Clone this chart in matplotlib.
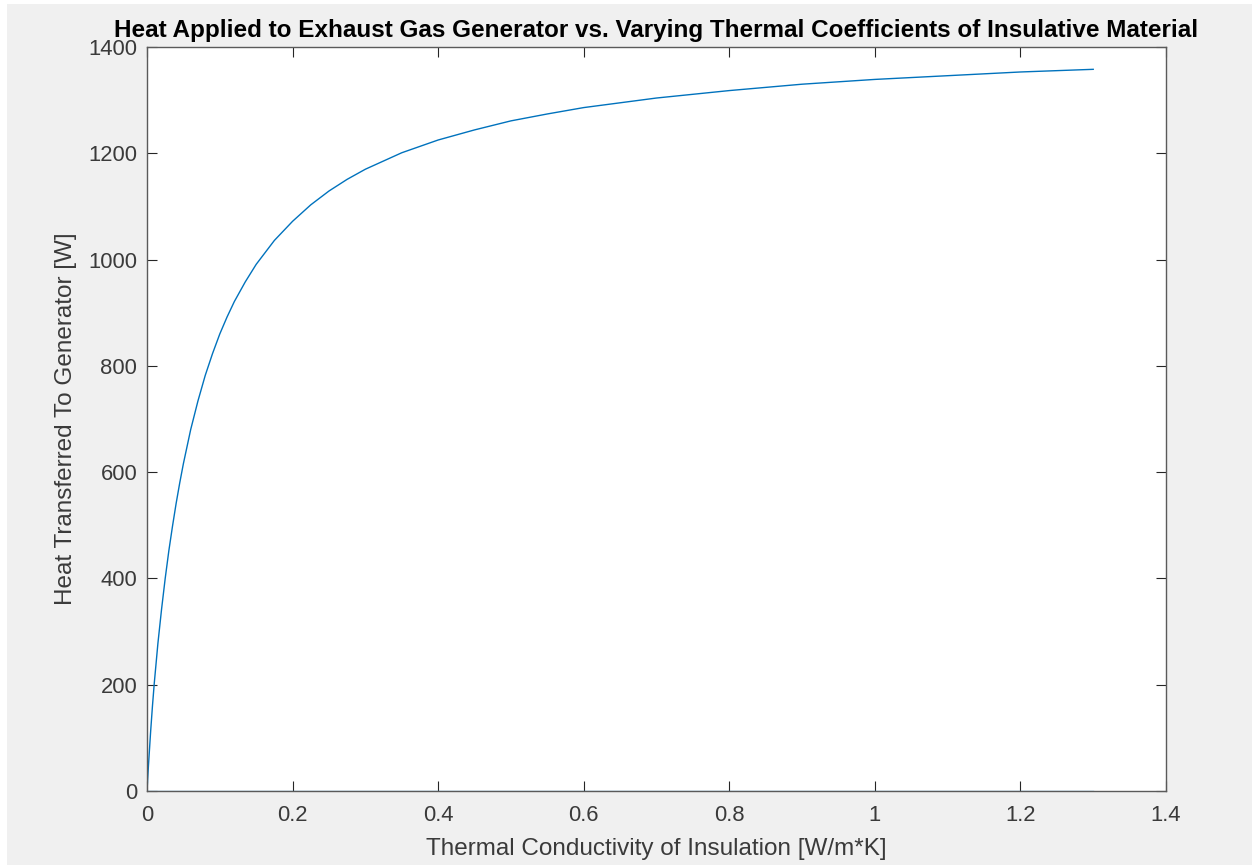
import matplotlib.pyplot as plt
import matplotlib.patches as mpatches

# thermal conductivity of insulation [W/m*K] and heat to generator [W]
k_vals = [0, 0.002, 0.005, 0.0075, 0.01, 0.015, 0.02, 0.025, 0.03, 0.035, 0.04, 0.045,
          0.05, 0.06, 0.07, 0.08, 0.09, 0.10, 0.11, 0.12, 0.135, 0.15, 0.175, 0.20,
          0.225, 0.25, 0.275, 0.30, 0.35, 0.40, 0.45, 0.50, 0.55, 0.60, 0.70, 0.80,
          0.90, 1.00, 1.10, 1.20, 1.30]
q_vals = [0, 48, 112, 160, 203, 278, 342, 400, 452, 498, 541, 580,
          616, 680, 734, 782, 823, 860, 892, 921, 958, 991, 1036, 1072,
          1103, 1129, 1151, 1170, 1201, 1225, 1244, 1261, 1274, 1286, 1304, 1318,
          1330, 1339, 1346, 1353, 1358]
# second row of the result matrix sits flat on zero
q_zero = [0 for _ in k_vals]

xticks = [0, 0.2, 0.4, 0.6, 0.8, 1, 1.2, 1.4]
xtick_labels = ["0", "0.2", "0.4", "0.6", "0.8", "1", "1.2", "1.4"]
yticks = [0, 200, 400, 600, 800, 1000, 1200, 1400]

plt.rcParams['font.family'] = ['Liberation Sans', 'DejaVu Sans']

fig = plt.figure(figsize=(12.52, 8.65), dpi=100, facecolor='white')
# grey figure window, thin white strip at top and left like the screenshot
fig.patches.append(mpatches.Rectangle((7 / 1252, 0), 1, 1 - 4 / 865, transform=fig.transFigure,
                                      facecolor='#f0f0f0', edgecolor='none', zorder=-10))
ax = fig.add_axes([147 / 1252, 1 - 791 / 865, (1166 - 147) / 1252, (791 - 47) / 865])
ax.set_facecolor('white')

ax.plot(k_vals, q_vals, color='#0072BD', lw=1.0)
ax.plot(k_vals, q_zero, color='#0072BD', lw=1.0, alpha=0.6)

ax.set_xlim(0, 1.4)
ax.set_ylim(0, 1400)
ax.set_xticks(xticks)
ax.set_xticklabels(xtick_labels)
ax.set_yticks(yticks)

grey = '#262626'
for s in ax.spines.values():
    s.set_color('#5a5a5a')
    s.set_linewidth(1.0)
ax.tick_params(direction='in', top=True, right=True, length=7, width=0.8,
               colors=grey, labelsize=15.8, labelcolor='#3a3a3a')
ax.tick_params(axis='x', pad=10)
ax.tick_params(axis='y', pad=7)

ax.set_xlabel("Thermal Conductivity of Insulation [W/m*K]", fontsize=17.5, color='#3a3a3a', labelpad=9)
ax.set_ylabel("Heat Transferred To Generator [W]", fontsize=17.5, color='#3a3a3a', labelpad=8)
ax.set_title("Heat Applied to Exhaust Gas Generator vs. Varying Thermal Coefficients of Insulative Material",
             fontsize=17.5, fontweight='bold', color='black', pad=7)

fig.savefig("out.png", dpi=100, facecolor=fig.get_facecolor())
